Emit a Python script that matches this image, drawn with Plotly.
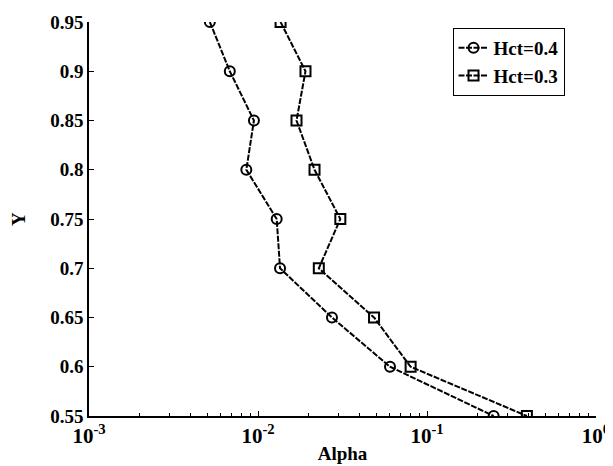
import plotly.graph_objects as go

y_levels = [0.95, 0.9, 0.85, 0.8, 0.75, 0.7, 0.65, 0.6, 0.55]
alpha_hct04 = [0.00519, 0.00681, 0.00946, 0.00853, 0.0129, 0.0135, 0.0274, 0.0604, 0.248]
alpha_hct03 = [0.0136, 0.0191, 0.0169, 0.0216, 0.0307, 0.0229, 0.0486, 0.0800, 0.390]
series_names = ["Hct=0.4", "Hct=0.3"]

x_tickvals = [0.001, 0.01, 0.1, 1]
x_ticktext = ["10<sup>-3</sup>", "10<sup>-2</sup>", "10<sup>-1</sup>", "10<sup>0</sup>"]
x_minor = [m * d for d in [0.001, 0.01, 0.1] for m in range(2, 10)]
y_tickvals = [0.55, 0.6, 0.65, 0.7, 0.75, 0.8, 0.85, 0.9, 0.95]
y_ticktext = ["0.55", "0.6", "0.65", "0.7", "0.75", "0.8", "0.85", "0.9", "0.95"]

FONT = "Liberation Serif"
line_style = dict(color="black", width=2, dash="6px,1.5px")

fig = go.Figure()
fig.add_trace(go.Scatter(
    x=alpha_hct04, y=y_levels, name=series_names[0], mode="lines+markers",
    line=line_style,
    marker=dict(symbol="circle-open", size=10, color="black", line=dict(width=2, color="black")),
))
fig.add_trace(go.Scatter(
    x=alpha_hct03, y=y_levels, name=series_names[1], mode="lines+markers",
    line=line_style,
    marker=dict(symbol="square-open", size=10, color="black", line=dict(width=2, color="black")),
))

bold = dict(family=FONT, size=19, color="black", weight="bold")
bold_x = dict(family=FONT, size=21, color="black", weight="bold")

fig.update_layout(
    width=613, height=466,
    margin=dict(l=81, r=25, t=14, b=58, autoexpand=False),
    paper_bgcolor="white", plot_bgcolor="white",
    font=bold,
    showlegend=True,
    legend=dict(
        x=0.717, y=0.985, xanchor="left", yanchor="top",
        bordercolor="black", borderwidth=1, bgcolor="white",
        font=bold,
        itemwidth=30, tracegroupgap=0,
    ),
    xaxis=dict(
        type="log", range=[-3, 0], automargin=False,
        tickvals=x_tickvals, ticktext=x_ticktext,
        ticklabeloverflow="allow",
        ticks="inside", ticklen=5, tickwidth=1, tickcolor="black",
        minor=dict(tickvals=x_minor, ticks="inside", ticklen=3, tickcolor="black", tickwidth=1, showgrid=False),
        showline=True, linecolor="black", linewidth=1.5, mirror=False,
        showgrid=False, zeroline=False,
        tickfont=bold_x,
        title=dict(text="Alpha", font=bold, standoff=0),
    ),
    yaxis=dict(
        range=[0.55, 0.95], automargin=False,
        tickvals=y_tickvals, ticktext=y_ticktext,
        ticks="inside", ticklen=5, tickwidth=1, tickcolor="black",
        showline=True, linecolor="black", linewidth=1.5, mirror=False,
        showgrid=False, zeroline=False,
        tickfont=bold,
        title=dict(text="Y", font=bold, standoff=22),
    ),
)

fig.write_html("out.html")
